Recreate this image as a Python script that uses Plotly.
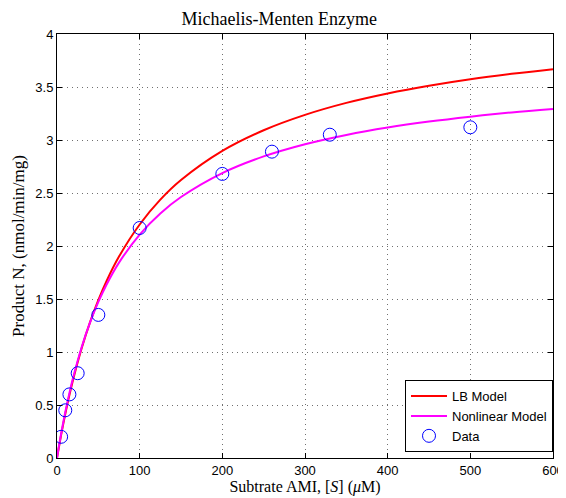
import plotly.graph_objects as go

# Data
substrate = [5, 10, 15, 25, 50, 100, 200, 260, 330, 500]
product = [0.20, 0.45, 0.60, 0.80, 1.35, 2.17, 2.68, 2.89, 3.05, 3.12]

# Model curves
curve_x = [0, 2, 5, 10, 15, 20, 30, 40, 50, 60, 75, 100, 125, 150, 200, 250, 300, 350, 400, 450, 500, 550, 600]
lb_model = [0, 0.090, 0.218, 0.415, 0.593, 0.755, 1.040, 1.282, 1.489, 1.670, 1.900, 2.203, 2.437, 2.622,
            2.897, 3.092, 3.237, 3.350, 3.439, 3.512, 3.573, 3.624, 3.668]
nl_model = [0, 0.095, 0.229, 0.431, 0.612, 0.773, 1.050, 1.279, 1.472, 1.637, 1.843, 2.108, 2.307, 2.462,
            2.688, 2.845, 2.960, 3.048, 3.118, 3.174, 3.220, 3.260, 3.293]

x_ticks = [0, 100, 200, 300, 400, 500, 600]
y_ticks = [0, 0.5, 1, 1.5, 2, 2.5, 3, 3.5, 4]
y_tick_labels = ["0", "0.5", "1", "1.5", "2", "2.5", "3", "3.5", "4"]

fig = go.Figure()
fig.add_trace(go.Scatter(x=curve_x, y=lb_model, mode="lines", name="LB Model",
                         line=dict(color="#ff0000", width=2, shape="spline")))
fig.add_trace(go.Scatter(x=curve_x, y=nl_model, mode="lines", name="Nonlinear Model",
                         line=dict(color="#ff00ff", width=2, shape="spline")))
fig.add_trace(go.Scatter(x=substrate, y=product, mode="markers", name="Data",
                         marker=dict(symbol="circle-open", size=13, color="#0000ff", line=dict(width=1))))

serif = "Liberation Serif, Times New Roman, serif"
sans = "Liberation Sans, Arial, sans-serif"
grid = dict(showgrid=True, gridcolor="#707070", griddash="1px,4px", gridwidth=1)

# The page puts the figure 8px in from the top-left corner, so the figure is 8px smaller.
fig.update_layout(
    width=558, height=490,
    margin=dict(l=49, r=13, t=26, b=40),
    paper_bgcolor="white", plot_bgcolor="white",
    title=dict(text="Michaelis-Menten Enzyme", x=0.486, xanchor="center", y=0.979, yanchor="middle",
               font=dict(family=serif, size=18, color="black")),
    showlegend=True,
    legend=dict(x=1.0, y=0.014, xanchor="right", yanchor="bottom",
                bordercolor="black", borderwidth=1, bgcolor="white",
                font=dict(family=sans, size=13, color="black"),
                tracegroupgap=0, itemwidth=36),
    xaxis=dict(range=[0, 600], tickvals=x_ticks, ticks="inside", ticklen=5, tickcolor="black",
               showline=True, linecolor="black", linewidth=1, mirror="ticks", automargin=False,
               zeroline=False, tickfont=dict(family=sans, size=13, color="black"),
               title=dict(text="Subtrate AMI, [<i>S</i>] (<i>μ</i>M)", standoff=2,
                          font=dict(family=serif, size=16, color="black")), **grid),
    yaxis=dict(range=[0, 4], tickvals=y_ticks, ticktext=y_tick_labels, ticks="inside", ticklen=5,
               tickcolor="black", showline=True, linecolor="black", linewidth=1, mirror="ticks",
               automargin=False, zeroline=False, tickfont=dict(family=sans, size=13, color="black"),
               title=dict(text="Product N, (nmol/min/mg)", standoff=6,
                          font=dict(family=serif, size=17, color="black")), **grid),
)

fig.write_html("out.html")
